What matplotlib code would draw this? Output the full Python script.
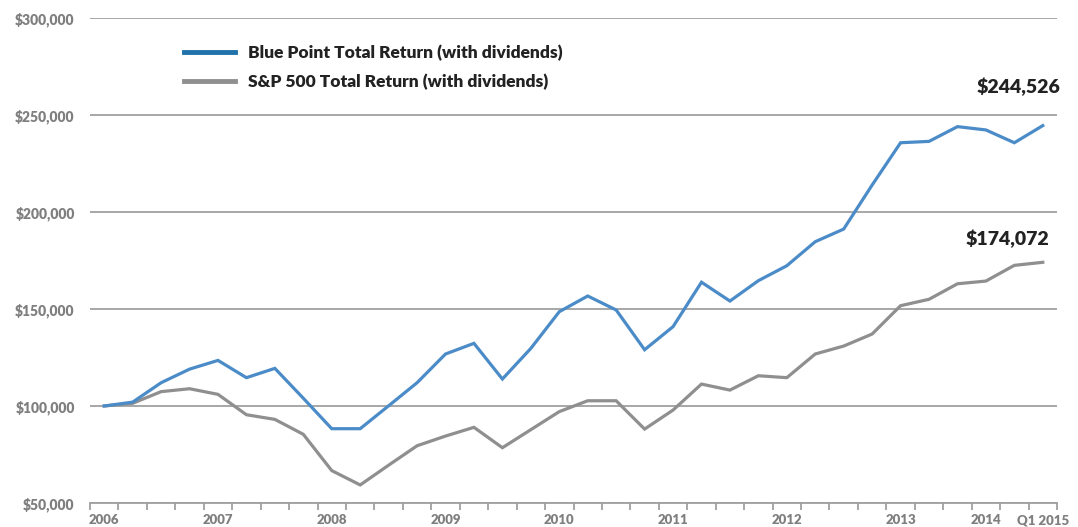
import matplotlib.pyplot as plt
from matplotlib.lines import Line2D
from matplotlib.ticker import FuncFormatter

# quarterly values, 2006 .. Q1 2015
blue_point = [100000, 102000, 112000, 119000, 123500, 114600, 119400, 104000,
              88300, 88300, 100100, 112000, 126800, 132300, 113900, 129700,
              148600, 156700, 149500, 129000, 140900, 163800, 154100, 164600,
              172300, 184700, 191200, 213900, 235700, 236400, 244000, 242300,
              235700, 244526]
sp500 = [100000, 101400, 107400, 108900, 106000, 95500, 93100, 85400,
         66700, 59300, 69500, 79500, 84500, 89000, 78500, 87800,
         97100, 102700, 102700, 88100, 97900, 111300, 108200, 115600,
         114600, 126800, 130900, 137100, 151700, 155000, 163000, 164400,
         172500, 174072]
tick_idx = [0, 4, 8, 12, 16, 20, 24, 28, 31, 33]
tick_labels = ["2006", "2007", "2008", "2009", "2010", "2011", "2012", "2013", "2014", "Q1 2015"]

blue_col = "#4b8cc8"
blue_leg = "#1f72aa"
gray_col = "#8f8f8f"
grid_col = "#a0a0a0"
text_gray = "#7f7f7f"

plt.rcParams['font.family'] = ['Lato', 'DejaVu Sans']

fig = plt.figure(figsize=(10.78, 5.27), dpi=100)
ax = fig.add_axes([90 / 1078, 1 - 503 / 527, 967 / 1078, 485 / 527])

x = list(range(len(blue_point)))
ax.plot(x, sp500, color=gray_col, lw=2.3, solid_joinstyle="miter", zorder=3)
ax.plot(x, blue_point, color=blue_col, lw=2.3, solid_joinstyle="miter", zorder=4)

ax.set_xlim(-0.5, len(x) - 0.5)
ax.set_ylim(50000, 300000)
ax.set_yticks(range(50000, 300001, 50000))
ax.yaxis.set_major_formatter(FuncFormatter(lambda v, p: f"${int(v):,}"))
ax.grid(axis="y", color=grid_col, lw=1.3, zorder=1)
ax.set_axisbelow(True)

# tick marks between categories, labels at categories
ax.set_xticks([i - 0.5 for i in range(len(x) + 1)])
ax.set_xticklabels([])
ax.set_xticks(tick_idx, minor=True)
ax.set_xticklabels(tick_labels, minor=True)
ax.tick_params(axis="x", which="major", direction="out", length=5, width=1.3, color=grid_col)
ax.tick_params(axis="x", which="minor", length=0, pad=8, labelsize=9.5, labelcolor=text_gray)
ax.tick_params(axis="y", length=0, pad=11, labelsize=10, labelcolor=text_gray)
for lab in ax.get_xticklabels(minor=True) + ax.get_yticklabels():
    lab.set_fontweight("heavy")

for s in ["top", "right", "left"]:
    ax.spines[s].set_visible(False)
ax.spines["bottom"].set_color(grid_col)
ax.spines["bottom"].set_linewidth(1.3)

handles = [Line2D([], [], color=blue_leg, lw=3.5), Line2D([], [], color=gray_col, lw=3.5)]
leg = ax.legend(handles, ["Blue Point Total Return (with dividends)", "S&P 500 Total Return (with dividends)"],
                loc="upper left", bbox_to_anchor=(0.081, 0.977), frameon=False,
                handlelength=2.95, handletextpad=0.75, labelspacing=0.72,
                prop={"weight": "heavy", "size": 12.5})
for t in leg.get_texts():
    t.set_color("#222222")

ax.annotate(f"${blue_point[-1]:,}", (x[-1], blue_point[-1]), xytext=(13, 28), textcoords="offset points",
            ha="right", va="center", fontsize=14, fontweight="heavy", color="#222222")
ax.annotate(f"${sp500[-1]:,}", (x[-1], sp500[-1]), xytext=(5, 17), textcoords="offset points",
            ha="right", va="center", fontsize=14, fontweight="heavy", color="#222222")

fig.savefig("out.png", dpi=100)
plt.close(fig)
